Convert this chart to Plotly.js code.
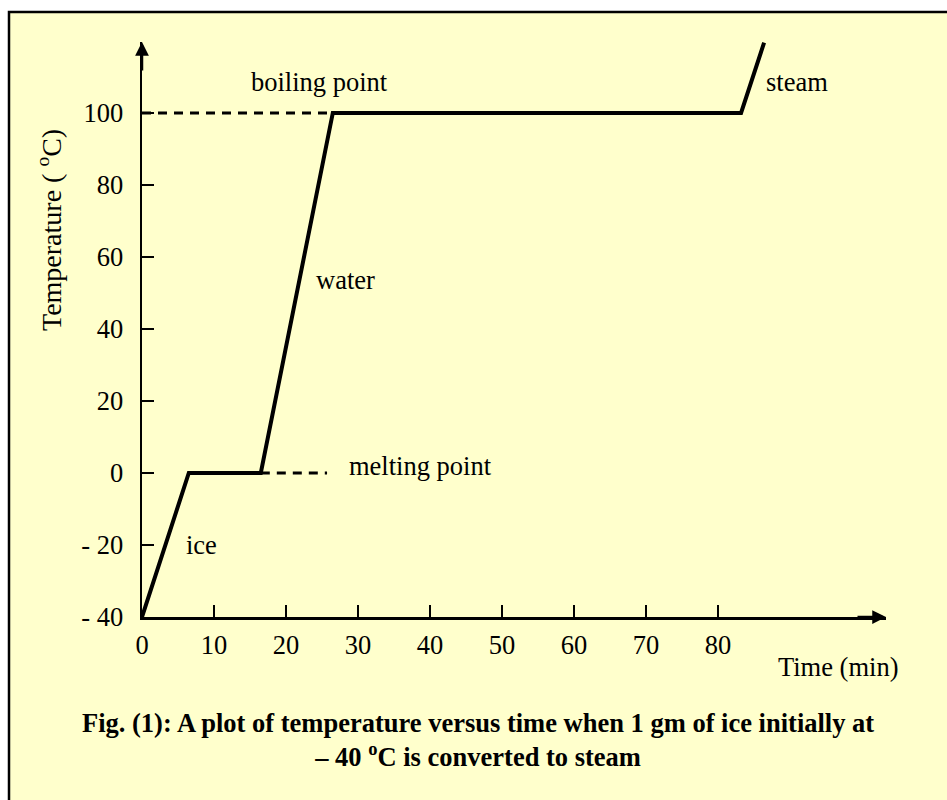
<!DOCTYPE html>
<html>
<head>
<meta charset="utf-8">
<script src="https://cdn.plot.ly/plotly-3.0.1.min.js"></script>
<style>
  html, body { margin: 0; padding: 0; background: #ffffff; }
  #chart { width: 947px; height: 800px; }
</style>
</head>
<body>
<div id="chart"></div>
<script>
// ---- data ----
const timeMin = [0, 6.5, 16.5, 26.5, 83.2, 86.4];
const tempC   = [-40, 0, 0, 100, 100, 119.5];

const boilDashX = [0, 26.5];
const boilDashY = [100, 100];
const meltDashX = [16.5, 25.7];
const meltDashY = [0, 0];

const xTickVals = [0, 10, 20, 30, 40, 50, 60, 70, 80];
const xTickText = ['0', '10', '20', '30', '40', '50', '60', '70', '80'];
const yTickVals = [-40, -20, 0, 20, 40, 60, 80, 100];
const yTickText = ['- 40', '- 20', '0', '20', '40', '60', '80', '100'];

const phaseLabels = ['boiling point', 'steam', 'water', 'melting point', 'ice'];
const phaseLabelX = [24.7, 86.4, 23.9, 28.45, 5.9];
const phaseLabelY = [108.5, 108.5, 53.7, 2.0, -20.1];
const phaseAnchor = ['center', 'left', 'left', 'left', 'left'];

const xTitle = 'Time (min)';
const yTitle = 'Temperature ( <sup>o</sup>C)';
const caption = 'Fig. (1): A plot of temperature versus time when 1 gm of ice initially at' +
                '<br>– 40 <sup>o</sup>C is converted to steam';

// ---- chart ----
const FONT = '"Liberation Serif", "Times New Roman", Times, serif';
const FS = 26.5;

const traces = [
  { x: boilDashX, y: boilDashY, mode: 'lines', type: 'scatter',
    line: { color: '#000', width: 3, dash: '9px,7px' }, hoverinfo: 'skip' },
  { x: meltDashX, y: meltDashY, mode: 'lines', type: 'scatter',
    line: { color: '#000', width: 3, dash: '9px,7px' }, hoverinfo: 'skip' },
  { x: timeMin, y: tempC, mode: 'lines', type: 'scatter',
    line: { color: '#000', width: 4 }, cliponaxis: false }
];

const annotations = phaseLabels.map((t, i) => ({
  text: t, x: phaseLabelX[i], y: phaseLabelY[i], xref: 'x', yref: 'y',
  xanchor: phaseAnchor[i], yanchor: 'middle', showarrow: false,
  font: { family: FONT, size: FS, color: '#000' }
}));

annotations.push(
  { text: xTitle, xref: 'paper', yref: 'paper', x: 1.02, y: -0.0878,
    xanchor: 'right', yanchor: 'middle', showarrow: false,
    font: { family: FONT, size: FS, color: '#000' } },
  { text: yTitle, xref: 'paper', yref: 'paper', x: (49 - 142) / 744, y: (617 - 230) / 575,
    xanchor: 'center', yanchor: 'middle', showarrow: false, textangle: -90,
    font: { family: FONT, size: 28, color: '#000' } },
  { text: '<b>' + caption + '</b>', xref: 'paper', yref: 'paper', x: 0.4516, y: (617 - 740) / 575,
    xanchor: 'center', yanchor: 'middle', showarrow: false,
    font: { family: FONT, size: FS, color: '#000' } },
  // axis arrowheads
  { text: '', xref: 'paper', yref: 'paper', x: 1, y: 0, ax: -30, ay: 0,
    showarrow: true, arrowhead: 2, arrowsize: 1.1, arrowwidth: 2.5, arrowcolor: '#000', standoff: 0 },
  { text: '', xref: 'paper', yref: 'paper', x: 0, y: 1, ax: 0, ay: 30,
    showarrow: true, arrowhead: 2, arrowsize: 1.1, arrowwidth: 2.5, arrowcolor: '#000', standoff: 0 }
);

const layout = {
  width: 947, height: 800,
  margin: { l: 142, r: 61, t: 42, b: 183, pad: 0 },
  paper_bgcolor: '#ffffff',
  plot_bgcolor: 'rgba(0,0,0,0)',
  showlegend: false,
  font: { family: FONT, size: FS, color: '#000' },
  xaxis: {
    range: [0, 103.33], showgrid: false, zeroline: false,
    showline: true, linecolor: '#000', linewidth: 2.5,
    ticks: 'inside', ticklen: 12, tickwidth: 1.2, tickcolor: '#000',
    tickvals: xTickVals, ticktext: xTickText, ticklabelstandoff: 3,
    tickfont: { family: FONT, size: FS, color: '#000' }, fixedrange: true
  },
  yaxis: {
    range: [-40, 119.7], showgrid: false, zeroline: false,
    showline: true, linecolor: '#000', linewidth: 2.5,
    ticks: 'inside', ticklen: 12, tickwidth: 1.2, tickcolor: '#000',
    tickvals: yTickVals, ticktext: yTickText, ticklabelstandoff: 11,
    tickfont: { family: FONT, size: FS, color: '#000' }, fixedrange: true
  },
  shapes: [
    { type: 'rect', xref: 'paper', yref: 'paper', layer: 'below',
      x0: (9 - 142) / 744, x1: (980 - 142) / 744,
      y0: (617 - 840) / 575, y1: (617 - 12) / 575,
      fillcolor: '#FFFFCC', line: { color: '#000', width: 2.5 } }
  ],
  annotations: annotations
};

Plotly.newPlot('chart', traces, layout, { displayModeBar: false, staticPlot: true });
</script>
</body>
</html>
